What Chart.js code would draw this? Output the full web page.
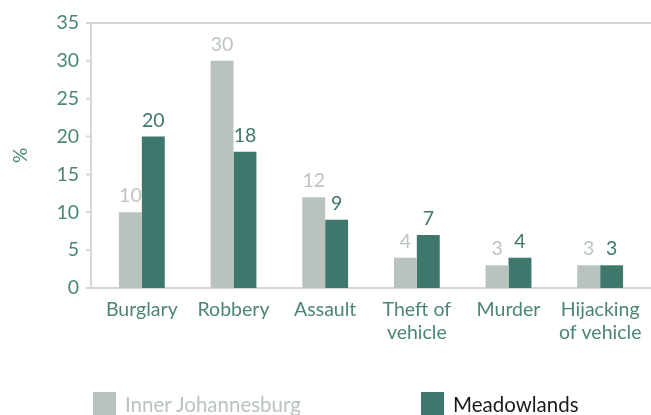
<!DOCTYPE html>
<html>
<head>
<meta charset="utf-8">
<script src="https://cdn.jsdelivr.net/npm/chart.js@4.4.1/dist/chart.umd.min.js"></script>
<style>
  html, body { margin: 0; padding: 0; background: #fff; overflow: hidden; width: 651px; height: 415px; }
  #wrap { position: absolute; left: 0; top: 0; width: 700px; height: 415px; }
  .leg { position: absolute; top: 392px; height: 30px; font-family: Lato, sans-serif; font-size: 20.5px; line-height: 22px; }
  .leg .sw { position: absolute; left: 0; top: 0; width: 23px; height: 30px; }
  .leg .tx { position: absolute; top: 1px; white-space: nowrap; }
</style>
</head>
<body>
<div id="wrap"><canvas id="c" width="700" height="415"></canvas></div>
<div class="leg" style="left:93px"><div class="sw" style="background:#b9c3be"></div><div class="tx" style="left:32px;color:#b9c3be">Inner Johannesburg</div></div>
<div class="leg" style="left:421px"><div class="sw" style="background:#3e776c"></div><div class="tx" style="left:32px;color:#1a1a1a">Meadowlands</div></div>
<script>
const categories = ['Burglary', 'Robbery', 'Assault', ['Theft of', 'vehicle'], 'Murder', ['Hijacking', 'of vehicle']];
const innerJohannesburg = [10, 30, 12, 4, 3, 3];
const meadowlands = [20, 18, 9, 7, 4, 3];
const seriesNames = ['Inner Johannesburg', 'Meadowlands'];
const yTicks = [0, 5, 10, 15, 20, 25, 30, 35];

const GRAY = '#b9c3be';
const GREEN = '#3e776c';
const TEAL_TEXT = '#4a8577';
const LINE = '#d6d6d6';
const FONT = 'Lato, sans-serif';

const framePlugin = {
  id: 'frame',
  beforeDatasetsDraw(chart) {
    const ctx = chart.ctx;
    const y = chart.scales.y;
    const area = chart.chartArea;
    const xAxis = area.left - 5;
    ctx.save();
    ctx.strokeStyle = LINE;
    ctx.lineWidth = 2;
    ctx.beginPath();
    ctx.moveTo(xAxis, y.getPixelForValue(35));
    ctx.lineTo(xAxis, y.getPixelForValue(0));
    [0, 35].forEach(v => {
      const py = y.getPixelForValue(v);
      ctx.moveTo(xAxis, py);
      ctx.lineTo(chart.width, py);
    });
    yTicks.forEach(v => {
      const py = y.getPixelForValue(v);
      ctx.moveTo(xAxis - 5, py);
      ctx.lineTo(xAxis, py);
    });
    ctx.stroke();
    ctx.restore();
  }
};

const labelPlugin = {
  id: 'valueLabels',
  afterDatasetsDraw(chart) {
    const ctx = chart.ctx;
    ctx.save();
    ctx.font = '19.5px ' + FONT;
    ctx.textAlign = 'center';
    ctx.textBaseline = 'alphabetic';
    chart.data.datasets.forEach((ds, i) => {
      const meta = chart.getDatasetMeta(i);
      ctx.fillStyle = i === 0 ? '#bcc5c0' : GREEN;
      meta.data.forEach((bar, j) => {
        ctx.fillText(String(ds.data[j]), bar.x, bar.y - 10);
      });
    });
    ctx.restore();
  }
};

new Chart(document.getElementById('c'), {
  type: 'bar',
  data: {
    labels: categories,
    datasets: [
      { label: seriesNames[0], data: innerJohannesburg, backgroundColor: GRAY },
      { label: seriesNames[1], data: meadowlands, backgroundColor: GREEN }
    ]
  },
  options: {
    responsive: false,
    animation: false,
    devicePixelRatio: 1,
    layout: { padding: { top: 23, right: 54, left: 0, bottom: 0 } },
    datasets: { bar: { barPercentage: 1, categoryPercentage: 0.5 } },
    plugins: { legend: { display: false }, tooltip: { enabled: false } },
    scales: {
      x: {
        grid: { display: false, drawTicks: false },
        border: { display: false },
        ticks: { color: TEAL_TEXT, font: { family: FONT, size: 19.5 }, padding: 10, maxRotation: 0, autoSkip: false },
        afterFit(s) { s.height = 415 - 288; s.paddingLeft = 0; s.paddingRight = 0; }
      },
      y: {
        min: 0, max: 35,
        grid: { display: false, drawTicks: false },
        border: { display: false },
        ticks: { stepSize: 5, color: TEAL_TEXT, font: { family: FONT, size: 19.5 }, padding: 17 },
        title: { display: true, text: '%', color: TEAL_TEXT, font: { family: FONT, size: 19 }, padding: { top: 9, bottom: 0 } },
        afterFit(s) { s.width = 96; s.paddingTop = 0; s.paddingBottom = 0; }
      }
    }
  },
  plugins: [framePlugin, labelPlugin]
});
</script>
</body>
</html>
